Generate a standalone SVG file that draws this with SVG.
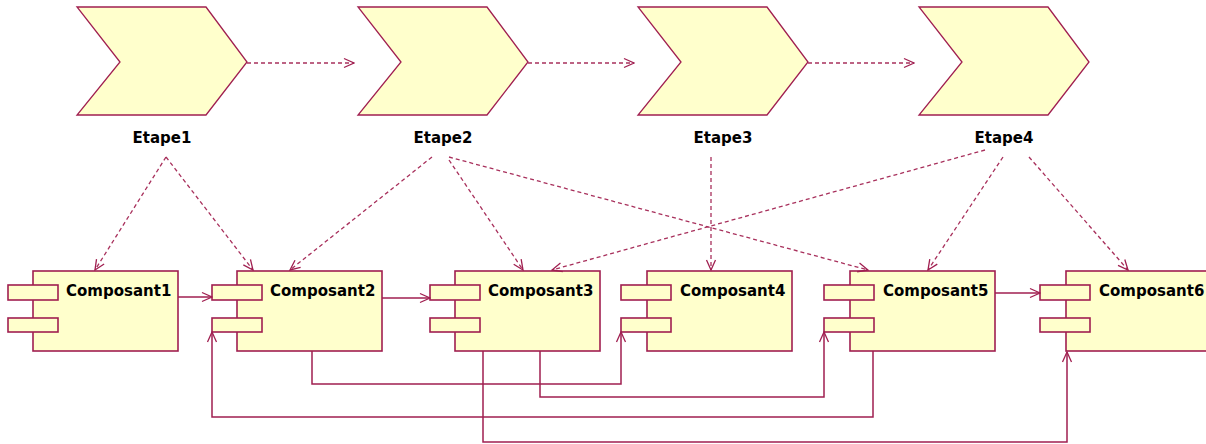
<svg xmlns="http://www.w3.org/2000/svg" width="1206" height="444" viewBox="0 0 1206 444">
<style>
.shape{fill:#ffffcc;stroke:#a01f50;stroke-width:1.6}
.chev{fill:#ffffcc;stroke:#a01f50;stroke-width:1.3}
.lbl{font-family:"DejaVu Sans",Verdana,sans-serif;font-weight:bold;font-size:15px;fill:#000}
.solid{fill:none;stroke:#a01f50;stroke-width:1.5;marker-end:url(#arr)}
.dash{fill:none;stroke:#a8305c;stroke-width:1.3;stroke-dasharray:4 3;marker-end:url(#arr)}
</style>
<defs>
<marker id="arr" markerUnits="userSpaceOnUse" markerWidth="12" markerHeight="12" refX="10" refY="5" orient="auto" viewBox="-1 -1 12 12">
<path d="M0,0.5 L10,5 L0,9.5" fill="none" stroke="#a01f50" stroke-width="1.3" stroke-dasharray="none"/>
</marker>
</defs>
<rect width="1206" height="444" fill="#ffffff"/>
<g id="Etape1"><path class="chev" d="M77,7 L206,7 L247,62 L206,115 L77,115 L120,62 Z"/><text class="lbl" x="162" y="143" text-anchor="middle">Etape1</text></g>
<g id="Etape2"><path class="chev" d="M358,7 L487,7 L528,62 L487,115 L358,115 L401,62 Z"/><text class="lbl" x="443" y="143" text-anchor="middle">Etape2</text></g>
<g id="Etape3"><path class="chev" d="M638,7 L767,7 L808,62 L767,115 L638,115 L681,62 Z"/><text class="lbl" x="723" y="143" text-anchor="middle">Etape3</text></g>
<g id="Etape4"><path class="chev" d="M919,7 L1048,7 L1089,62 L1048,115 L919,115 L962,62 Z"/><text class="lbl" x="1004" y="143" text-anchor="middle">Etape4</text></g>
<g id="Composant1"><rect class="shape" x="33" y="271" width="145" height="80"/><rect class="shape" x="8" y="285" width="50" height="15"/><rect class="shape" x="8" y="318" width="50" height="14"/><text class="lbl" x="66" y="296">Composant1</text></g>
<g id="Composant2"><rect class="shape" x="237" y="271" width="145" height="80"/><rect class="shape" x="212" y="285" width="50" height="15"/><rect class="shape" x="212" y="318" width="50" height="14"/><text class="lbl" x="270" y="296">Composant2</text></g>
<g id="Composant3"><rect class="shape" x="455" y="271" width="145" height="80"/><rect class="shape" x="430" y="285" width="50" height="15"/><rect class="shape" x="430" y="318" width="50" height="14"/><text class="lbl" x="488" y="296">Composant3</text></g>
<g id="Composant4"><rect class="shape" x="647" y="271" width="145" height="80"/><rect class="shape" x="621" y="285" width="50" height="15"/><rect class="shape" x="621" y="318" width="50" height="14"/><text class="lbl" x="680" y="296">Composant4</text></g>
<g id="Composant5"><rect class="shape" x="850" y="271" width="145" height="80"/><rect class="shape" x="824" y="285" width="50" height="15"/><rect class="shape" x="824" y="318" width="50" height="14"/><text class="lbl" x="883" y="296">Composant5</text></g>
<g id="Composant6"><rect class="shape" x="1066" y="271" width="145" height="80"/><rect class="shape" x="1040" y="285" width="50" height="15"/><rect class="shape" x="1040" y="318" width="50" height="14"/><text class="lbl" x="1099" y="296">Composant6</text></g>
<g id="connectors">
<path class="dash" d="M247,63 L354,63"/>
<path class="dash" d="M528,63 L634,63"/>
<path class="dash" d="M808,63 L914,63"/>
<path class="dash" d="M166,157 L95,270"/>
<path class="dash" d="M166,157 L253,270"/>
<path class="dash" d="M432,157 L290,270"/>
<path class="dash" d="M449,160 L523,270"/>
<path class="dash" d="M449,157 L868,270"/>
<path class="dash" d="M711,157 L711,270"/>
<path class="dash" d="M985,150 L552,270"/>
<path class="dash" d="M1003,157 L928,270"/>
<path class="dash" d="M1029,157 L1128,270"/>
<path class="solid" d="M178,297 L212,297"/>
<path class="solid" d="M382,298 L430,298"/>
<path class="solid" d="M995,293 L1040,293"/>
<path class="solid" d="M312,351 V384 H621 V332"/>
<path class="solid" d="M540,351 V397 H824 V332"/>
<path class="solid" d="M873,351 V417 H212 V332"/>
<path class="solid" d="M483,351 V442 H1067 V352"/>
</g>
</svg>
